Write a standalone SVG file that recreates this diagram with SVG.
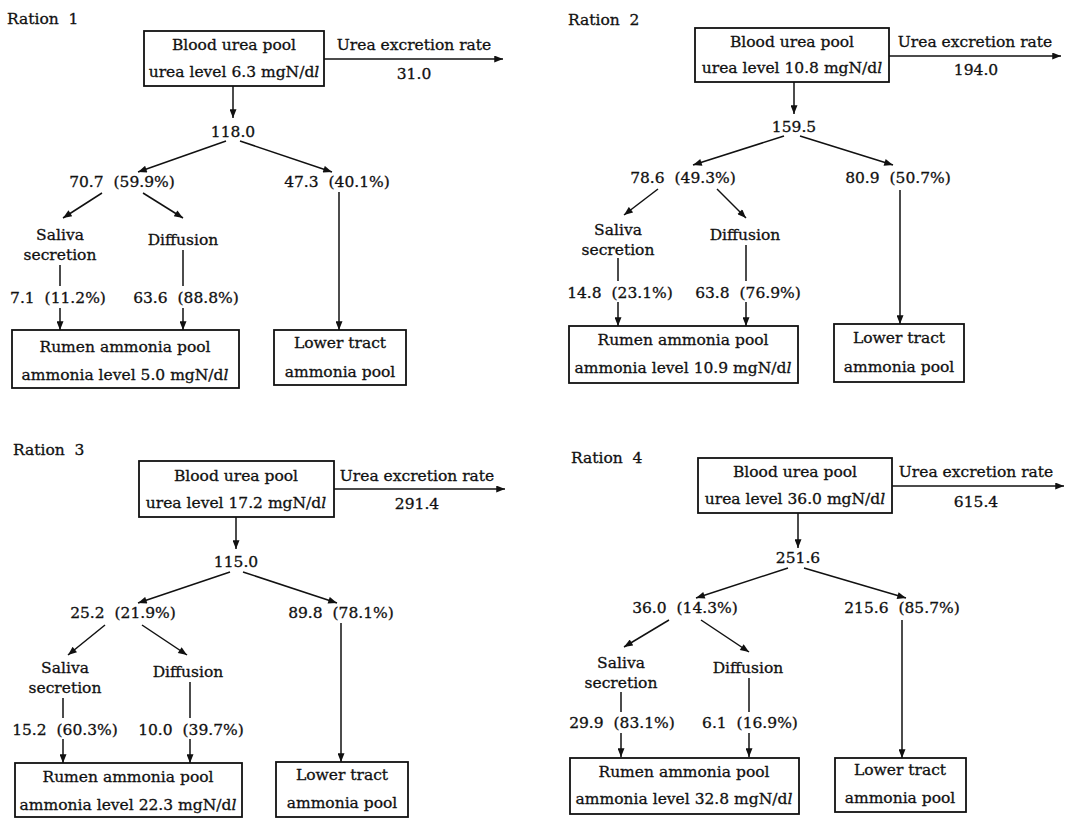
<svg xmlns="http://www.w3.org/2000/svg" width="1092" height="818" viewBox="0 0 1092 818">
<style>
text{font-family:"DejaVu Serif","Liberation Serif",serif;font-size:15.5px;fill:#111;stroke:#111;stroke-width:0.3;white-space:pre}
.m{text-anchor:middle}
.box{fill:none;stroke:#111;stroke-width:1.8}
.c line{stroke:#111;stroke-width:1.5}
.a{marker-end:url(#ah)}
.it{font-style:italic}
</style>
<defs>
<marker id="ah" viewBox="0 0 10 8" refX="10" refY="4" markerWidth="10" markerHeight="7" orient="auto" markerUnits="userSpaceOnUse">
<path d="M0,0 L10,4 L0,8 z" fill="#111"/>
</marker>
</defs>
<rect width="1092" height="818" fill="#fff"/>

<!-- Ration 1 -->
<g id="r1">
<text id="r1-title" x="7" y="24">Ration  1</text>
<g id="r1-blood"><rect class="box" x="144" y="31" width="180" height="55"/><text class="m" x="234" y="50">Blood urea pool</text><text class="m" x="234" y="77">urea level 6.3 mgN/d<tspan class="it">l</tspan></text></g>
<g id="r1-excr"><text class="m" x="414" y="50">Urea excretion rate</text><text class="m" x="414" y="79">31.0</text></g>
<g id="r1-total"><text class="m" x="233" y="137">118.0</text></g>
<g id="r1-left"><text class="m" x="122" y="187">70.7  (59.9%)</text></g>
<g id="r1-right"><text class="m" x="337" y="187">47.3  (40.1%)</text></g>
<g id="r1-saliva"><text class="m" x="60" y="240">Saliva</text><text class="m" x="60" y="260">secretion</text></g>
<g id="r1-diff"><text class="m" x="183" y="245">Diffusion</text></g>
<g id="r1-sv"><text class="m" x="58" y="303">7.1  (11.2%)</text></g>
<g id="r1-dv"><text class="m" x="186" y="303">63.6  (88.8%)</text></g>
<g id="r1-rumen"><rect class="box" x="12" y="330" width="227" height="58"/><text class="m" x="125" y="352">Rumen ammonia pool</text><text class="m" x="125" y="380">ammonia level 5.0 mgN/d<tspan class="it">l</tspan></text></g>
<g id="r1-lower"><rect class="box" x="274" y="330" width="132" height="55"/><text class="m" x="340" y="348">Lower tract</text><text class="m" x="340" y="377">ammonia pool</text></g>
<g id="r1-conn" class="c">
<line class="a" x1="324" y1="59" x2="503" y2="59"/>
<line class="a" x1="233" y1="86" x2="233" y2="118"/>
<line class="a" x1="226" y1="141" x2="138" y2="172"/>
<line class="a" x1="240" y1="141" x2="332" y2="172"/>
<line class="a" x1="102" y1="193" x2="63" y2="218"/>
<line class="a" x1="143" y1="193" x2="183" y2="218"/>
<line x1="60" y1="265" x2="60" y2="286"/>
<line class="a" x1="60" y1="308" x2="60" y2="330"/>
<line x1="183" y1="250" x2="183" y2="286"/>
<line class="a" x1="183" y1="308" x2="183" y2="330"/>
<line class="a" x1="339" y1="192" x2="339" y2="330"/>
</g>
</g>

<!-- Ration 2 -->
<g id="r2">
<text id="r2-title" x="568" y="25">Ration  2</text>
<g id="r2-blood"><rect class="box" x="695" y="28" width="194" height="54"/><text class="m" x="792" y="47">Blood urea pool</text><text class="m" x="792" y="73">urea level 10.8 mgN/d<tspan class="it">l</tspan></text></g>
<g id="r2-excr"><text class="m" x="975" y="47">Urea excretion rate</text><text class="m" x="976" y="75">194.0</text></g>
<g id="r2-total"><text class="m" x="794" y="132">159.5</text></g>
<g id="r2-left"><text class="m" x="683" y="183">78.6  (49.3%)</text></g>
<g id="r2-right"><text class="m" x="898" y="183">80.9  (50.7%)</text></g>
<g id="r2-saliva"><text class="m" x="618" y="235">Saliva</text><text class="m" x="618" y="255">secretion</text></g>
<g id="r2-diff"><text class="m" x="745" y="240">Diffusion</text></g>
<g id="r2-sv"><text class="m" x="620" y="298">14.8  (23.1%)</text></g>
<g id="r2-dv"><text class="m" x="748" y="298">63.8  (76.9%)</text></g>
<g id="r2-rumen"><rect class="box" x="569" y="326" width="229" height="57"/><text class="m" x="683" y="345">Rumen ammonia pool</text><text class="m" x="683" y="373">ammonia level 10.9 mgN/d<tspan class="it">l</tspan></text></g>
<g id="r2-lower"><rect class="box" x="834" y="324" width="130" height="58"/><text class="m" x="899" y="343">Lower tract</text><text class="m" x="899" y="372">ammonia pool</text></g>
<g id="r2-conn" class="c">
<line class="a" x1="889" y1="56" x2="1061" y2="56"/>
<line class="a" x1="794" y1="82" x2="794" y2="114"/>
<line class="a" x1="784" y1="136" x2="693" y2="165"/>
<line class="a" x1="800" y1="136" x2="893" y2="165"/>
<line class="a" x1="658" y1="189" x2="624" y2="215"/>
<line class="a" x1="717" y1="189" x2="746" y2="218"/>
<line x1="618" y1="258" x2="618" y2="281"/>
<line class="a" x1="618" y1="302" x2="618" y2="326"/>
<line x1="746" y1="245" x2="746" y2="281"/>
<line class="a" x1="746" y1="302" x2="746" y2="326"/>
<line class="a" x1="900" y1="190" x2="900" y2="324"/>
</g>
</g>

<!-- Ration 3 -->
<g id="r3">
<text id="r3-title" x="13" y="455">Ration  3</text>
<g id="r3-blood"><rect class="box" x="139" y="461" width="195" height="56"/><text class="m" x="236" y="481">Blood urea pool</text><text class="m" x="236" y="508">urea level 17.2 mgN/d<tspan class="it">l</tspan></text></g>
<g id="r3-excr"><text class="m" x="417" y="481">Urea excretion rate</text><text class="m" x="417" y="509">291.4</text></g>
<g id="r3-total"><text class="m" x="236" y="567">115.0</text></g>
<g id="r3-left"><text class="m" x="123" y="618">25.2  (21.9%)</text></g>
<g id="r3-right"><text class="m" x="341" y="618">89.8  (78.1%)</text></g>
<g id="r3-saliva"><text class="m" x="65" y="673">Saliva</text><text class="m" x="65" y="693">secretion</text></g>
<g id="r3-diff"><text class="m" x="188" y="677">Diffusion</text></g>
<g id="r3-sv"><text class="m" x="65" y="735">15.2  (60.3%)</text></g>
<g id="r3-dv"><text class="m" x="191" y="735">10.0  (39.7%)</text></g>
<g id="r3-rumen"><rect class="box" x="15" y="763" width="227" height="54"/><text class="m" x="128" y="782">Rumen ammonia pool</text><text class="m" x="128" y="810">ammonia level 22.3 mgN/d<tspan class="it">l</tspan></text></g>
<g id="r3-lower"><rect class="box" x="276" y="762" width="132" height="55"/><text class="m" x="342" y="780">Lower tract</text><text class="m" x="342" y="808">ammonia pool</text></g>
<g id="r3-conn" class="c">
<line class="a" x1="334" y1="489" x2="505" y2="489"/>
<line class="a" x1="236" y1="517" x2="236" y2="549"/>
<line class="a" x1="230" y1="572" x2="138" y2="603"/>
<line class="a" x1="243" y1="572" x2="337" y2="603"/>
<line class="a" x1="105" y1="625" x2="68" y2="655"/>
<line class="a" x1="142" y1="625" x2="187" y2="655"/>
<line x1="63" y1="698" x2="63" y2="718"/>
<line class="a" x1="63" y1="739" x2="63" y2="763"/>
<line x1="190" y1="682" x2="190" y2="718"/>
<line class="a" x1="190" y1="739" x2="190" y2="763"/>
<line class="a" x1="341" y1="623" x2="341" y2="762"/>
</g>
</g>

<!-- Ration 4 -->
<g id="r4">
<text id="r4-title" x="571" y="463">Ration  4</text>
<g id="r4-blood"><rect class="box" x="698" y="458" width="194" height="55"/><text class="m" x="795" y="477">Blood urea pool</text><text class="m" x="795" y="504">urea level 36.0 mgN/d<tspan class="it">l</tspan></text></g>
<g id="r4-excr"><text class="m" x="976" y="477">Urea excretion rate</text><text class="m" x="976" y="507">615.4</text></g>
<g id="r4-total"><text class="m" x="798" y="563">251.6</text></g>
<g id="r4-left"><text class="m" x="685" y="613">36.0  (14.3%)</text></g>
<g id="r4-right"><text class="m" x="902" y="613">215.6  (85.7%)</text></g>
<g id="r4-saliva"><text class="m" x="621" y="668">Saliva</text><text class="m" x="621" y="688">secretion</text></g>
<g id="r4-diff"><text class="m" x="748" y="673">Diffusion</text></g>
<g id="r4-sv"><text class="m" x="622" y="728">29.9  (83.1%)</text></g>
<g id="r4-dv"><text class="m" x="750" y="728">6.1  (16.9%)</text></g>
<g id="r4-rumen"><rect class="box" x="570" y="758" width="229" height="56"/><text class="m" x="684" y="777">Rumen ammonia pool</text><text class="m" x="684" y="804">ammonia level 32.8 mgN/d<tspan class="it">l</tspan></text></g>
<g id="r4-lower"><rect class="box" x="835" y="758" width="131" height="54"/><text class="m" x="900" y="775">Lower tract</text><text class="m" x="900" y="803">ammonia pool</text></g>
<g id="r4-conn" class="c">
<line class="a" x1="892" y1="486" x2="1064" y2="486"/>
<line class="a" x1="798" y1="513" x2="798" y2="548"/>
<line class="a" x1="788" y1="568" x2="696" y2="598"/>
<line class="a" x1="804" y1="568" x2="906" y2="598"/>
<line class="a" x1="669" y1="620" x2="624" y2="647"/>
<line class="a" x1="701" y1="620" x2="749" y2="652"/>
<line x1="621" y1="692" x2="621" y2="712"/>
<line class="a" x1="621" y1="733" x2="621" y2="757"/>
<line x1="749" y1="678" x2="749" y2="712"/>
<line class="a" x1="749" y1="733" x2="749" y2="757"/>
<line class="a" x1="902" y1="620" x2="902" y2="758"/>
</g>
</g>
</svg>
